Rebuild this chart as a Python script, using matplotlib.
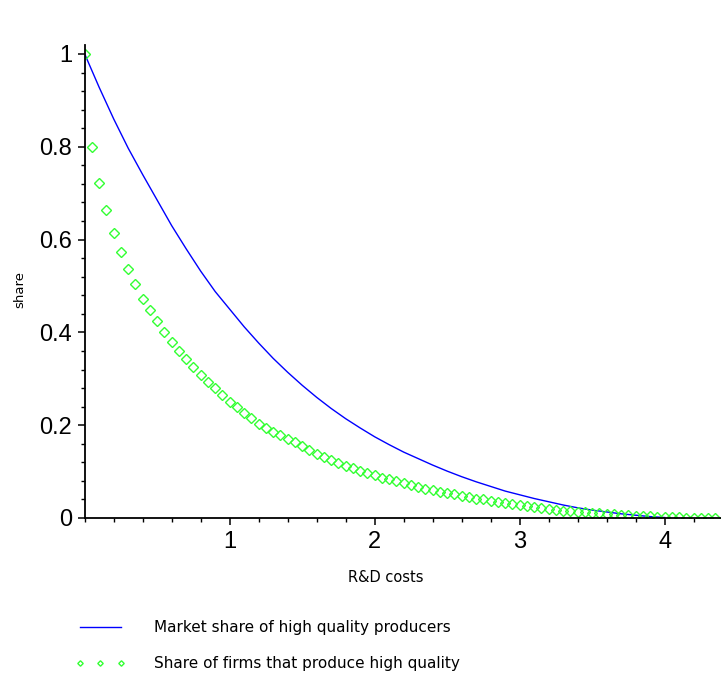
import matplotlib.pyplot as plt
from matplotlib.ticker import MultipleLocator

# Рыночная доля производителей высокого качества (синяя линия), шаг 0.1
market_x = [round(0.1 * i, 1) for i in range(41)]
market_y = [1.0, 0.928, 0.860, 0.797, 0.740, 0.685, 0.630, 0.580, 0.532, 0.488,
            0.450, 0.412, 0.377, 0.344, 0.314, 0.286, 0.260, 0.236, 0.214, 0.194,
            0.175, 0.158, 0.142, 0.128, 0.114, 0.101, 0.089, 0.078, 0.068, 0.058,
            0.050, 0.042, 0.035, 0.028, 0.022, 0.017, 0.013, 0.009, 0.006, 0.003,
            0.001]

# Доля фирм, производящих высокое качество (зелёные ромбы), шаг 0.05
firms_x = [round(0.05 * i, 2) for i in range(88)]
firms_y = [1.0, 0.800, 0.721, 0.664, 0.615, 0.574, 0.536, 0.504, 0.473, 0.448,
           0.425, 0.401, 0.379, 0.359, 0.342, 0.325, 0.308, 0.293, 0.280, 0.265,
           0.251, 0.239, 0.227, 0.215, 0.203, 0.195, 0.186, 0.178, 0.170, 0.163,
           0.155, 0.147, 0.139, 0.132, 0.126, 0.119, 0.113, 0.107, 0.102, 0.097,
           0.092, 0.087, 0.083, 0.079, 0.075, 0.071, 0.067, 0.063, 0.060, 0.057,
           0.054, 0.051, 0.048, 0.045, 0.042, 0.040, 0.037, 0.035, 0.032, 0.030,
           0.027, 0.025, 0.023, 0.021, 0.019, 0.018, 0.016, 0.015, 0.013, 0.012,
           0.011, 0.010, 0.009, 0.008, 0.007, 0.006, 0.005, 0.004, 0.004, 0.003,
           0.003, 0.002, 0.002, 0.001, 0.001, 0.001, 0.000, 0.000]

fig = plt.figure(figsize=(7.21, 6.79), dpi=100)
ax = fig.add_axes([84.7 / 721, 161 / 679, (721 - 84.7) / 721, (518 - 45) / 679])

line, = ax.plot(market_x, market_y, color="#0000ff", linewidth=1.0)
pts, = ax.plot(firms_x, firms_y, linestyle="none", marker="D", markersize=4.6,
               markerfacecolor="none", markeredgecolor="#33ff33", markeredgewidth=1.0)

ax.set_xlim(0, (721 - 84.7) / 145)
ax.set_ylim(0, (518 - 45) / 464)

for side in ("top", "right"):
    ax.spines[side].set_visible(False)
for side in ("left", "bottom"):
    ax.spines[side].set_linewidth(1.3)

ax.set_xticks([1, 2, 3, 4])
ax.set_yticks([0, 0.2, 0.4, 0.6, 0.8, 1])
ax.set_yticklabels(["0", "0.2", "0.4", "0.6", "0.8", "1"])
ax.xaxis.set_minor_locator(MultipleLocator(0.2))
ax.yaxis.set_minor_locator(MultipleLocator(0.04))
ax.tick_params(which="major", length=5, width=1.1, labelsize=17, pad=4)
ax.tick_params(which="minor", length=3, width=1.0)
for lab in ax.get_xticklabels() + ax.get_yticklabels():
    lab.set_fontfamily("Liberation Sans")

fig.text(386 / 721, 1 - 578 / 679, "R&D costs", ha="center", va="center", fontsize=10.5)
fig.text(20 / 721, 1 - 290 / 679, "share", ha="center", va="center", rotation=90, fontsize=9.5)

fig.legend([line, pts],
           ["Market share of high quality producers",
            "Share of firms that produce high quality"],
           loc="upper left", bbox_to_anchor=(75 / 721, 1 - 620 / 679),
           frameon=False, fontsize=11, handlelength=3.3, handletextpad=1.9,
           labelspacing=1.4, borderpad=0, borderaxespad=0, numpoints=3,
           markerscale=0.6)

fig.savefig("out.png", dpi=100)
